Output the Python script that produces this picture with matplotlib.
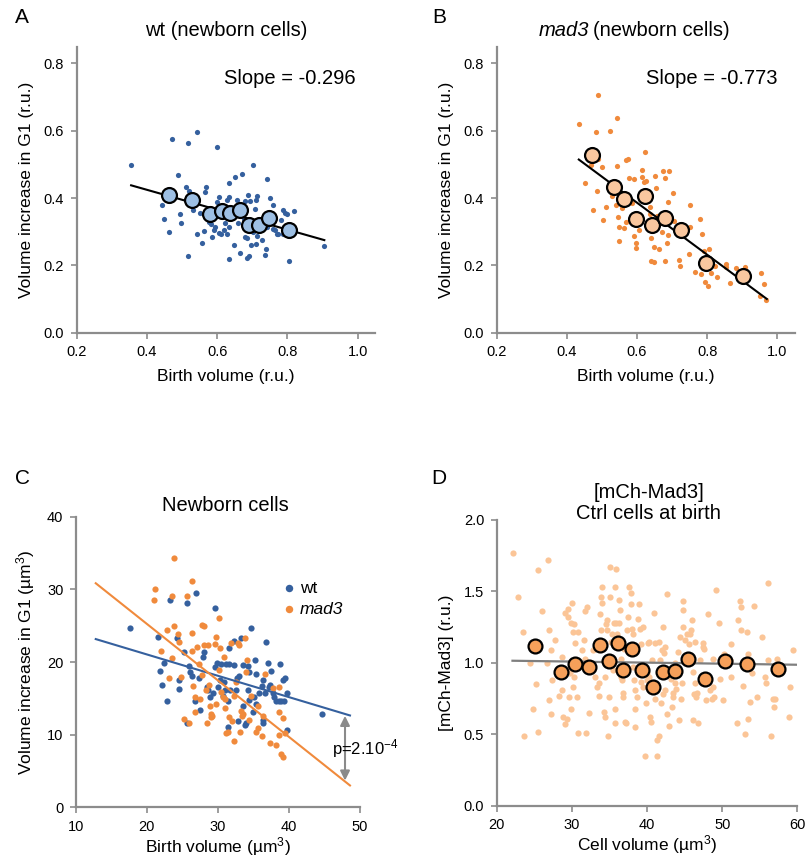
import matplotlib
matplotlib.use('Agg')
import matplotlib.pyplot as plt
import numpy as np

plt.rcParams['font.family'] = ['Liberation Sans', 'DejaVu Sans']
plt.rcParams['mathtext.fontset'] = 'custom'
plt.rcParams['mathtext.rm'] = 'Liberation Sans'
plt.rcParams['mathtext.it'] = 'Liberation Sans:italic'
plt.rcParams['mathtext.default'] = 'regular'

# ---------------- data ----------------
# panel A: wt newborn cells
a_x = [0.355, 0.471, 0.542, 0.518, 0.600, 0.701, 0.489, 0.635, 0.650, 0.671, 0.743, 0.510, 0.519, 0.568,
       0.566, 0.444, 0.448, 0.462, 0.495, 0.497, 0.521, 0.530, 0.552, 0.542, 0.556, 0.517, 0.578, 0.582,
       0.590, 0.600, 0.604, 0.634, 0.628, 0.656, 0.678, 0.688, 0.694, 0.709, 0.656, 0.658, 0.675, 0.689,
       0.711, 0.714, 0.750, 0.759, 0.787, 0.792, 0.800, 0.819, 0.747, 0.738, 0.743, 0.759, 0.765, 0.774,
       0.789, 0.782, 0.594, 0.605, 0.618, 0.628, 0.680, 0.701, 0.685, 0.696, 0.710, 0.713, 0.647, 0.621,
       0.633, 0.568, 0.562, 0.584, 0.612, 0.634, 0.664, 0.685, 0.692, 0.738, 0.737, 0.804, 0.905, 0.770,
       0.787, 0.794, 0.722, 0.728]
a_y = [0.497, 0.575, 0.595, 0.565, 0.552, 0.499, 0.469, 0.445, 0.463, 0.472, 0.457, 0.432, 0.421, 0.432,
       0.418, 0.379, 0.338, 0.298, 0.354, 0.327, 0.394, 0.364, 0.357, 0.294, 0.268, 0.229, 0.330, 0.323,
       0.305, 0.387, 0.404, 0.403, 0.394, 0.394, 0.391, 0.408, 0.391, 0.369, 0.349, 0.325, 0.339, 0.320,
       0.394, 0.406, 0.401, 0.378, 0.366, 0.357, 0.354, 0.362, 0.343, 0.319, 0.315, 0.309, 0.305, 0.292,
       0.315, 0.335, 0.315, 0.295, 0.305, 0.292, 0.285, 0.300, 0.280, 0.260, 0.265, 0.287, 0.262, 0.327,
       0.315, 0.345, 0.303, 0.285, 0.293, 0.218, 0.238, 0.221, 0.228, 0.248, 0.232, 0.214, 0.258, 0.293,
       0.293, 0.293, 0.305, 0.275]
a_mean_x = [0.463, 0.529, 0.579, 0.613, 0.637, 0.664, 0.690, 0.720, 0.748, 0.804]
a_mean_y = [0.409, 0.394, 0.354, 0.363, 0.357, 0.364, 0.321, 0.319, 0.342, 0.306]
a_fit = (-0.296, 0.543)   # slope, intercept
a_fit_x = [0.355, 0.905]

# panel B: mad3 newborn cells
b_x = [0.436, 0.489, 0.544, 0.524, 0.484, 0.469, 0.490, 0.500, 0.451, 0.487, 0.475, 0.504, 0.511, 0.528,
       0.544, 0.541, 0.546, 0.549, 0.549, 0.562, 0.557, 0.568, 0.575, 0.568, 0.577, 0.590, 0.587, 0.592,
       0.598, 0.596, 0.605, 0.607, 0.613, 0.622, 0.621, 0.626, 0.615, 0.653, 0.650, 0.636, 0.638, 0.639,
       0.641, 0.647, 0.649, 0.656, 0.662, 0.672, 0.675, 0.680, 0.692, 0.688, 0.702, 0.704, 0.695, 0.680,
       0.685, 0.687, 0.721, 0.723, 0.747, 0.752, 0.751, 0.764, 0.780, 0.785, 0.790, 0.783, 0.794, 0.802,
       0.804, 0.811, 0.822, 0.827, 0.853, 0.855, 0.866, 0.881, 0.907, 0.950, 0.954, 0.962, 0.969]
b_y = [0.620, 0.705, 0.639, 0.598, 0.597, 0.499, 0.515, 0.491, 0.444, 0.422, 0.364, 0.335, 0.373, 0.406,
       0.494, 0.379, 0.343, 0.314, 0.272, 0.311, 0.371, 0.330, 0.515, 0.513, 0.459, 0.458, 0.385, 0.287,
       0.252, 0.266, 0.328, 0.304, 0.482, 0.536, 0.447, 0.451, 0.464, 0.430, 0.467, 0.373, 0.353, 0.282,
       0.212, 0.211, 0.254, 0.346, 0.248, 0.299, 0.479, 0.459, 0.480, 0.387, 0.415, 0.333, 0.338, 0.214,
       0.266, 0.289, 0.215, 0.199, 0.234, 0.379, 0.315, 0.179, 0.338, 0.294, 0.243, 0.175, 0.151, 0.139,
       0.250, 0.177, 0.197, 0.165, 0.205, 0.195, 0.149, 0.192, 0.195, 0.108, 0.177, 0.144, 0.096]
b_mean_x = [0.471, 0.534, 0.564, 0.598, 0.623, 0.643, 0.679, 0.726, 0.798, 0.902]
b_mean_y = [0.528, 0.434, 0.396, 0.338, 0.405, 0.321, 0.340, 0.304, 0.208, 0.168]
b_fit = (-0.773, 0.850)
b_fit_x = [0.434, 0.970]

# panel C: absolute volumes (um3)
c_wt_x = [17.6, 21.5, 21.9, 22.4, 22.2, 22.8, 23.2, 24.2, 24.5, 24.5, 25.2, 25.6, 26.9, 25.6, 26.0, 26.1,
          26.3, 26.8, 27.4, 27.5, 27.9, 28.1, 28.4, 28.6, 28.9, 29.3, 29.6, 29.6, 29.9, 30.0, 30.3, 30.5,
          30.7, 30.8, 31.0, 31.2, 31.4, 31.5, 31.5, 31.4, 31.7, 32.2, 32.3, 32.5, 32.7, 32.8, 33.0, 33.2,
          33.5, 33.6, 33.8, 33.9, 34.3, 34.3, 34.4, 34.4, 34.6, 34.9, 35.1, 35.2, 35.3, 35.4, 35.8, 36.2,
          36.3, 36.4, 36.4, 36.6, 36.8, 37.0, 37.2, 37.4, 37.5, 37.7, 37.9, 38.2, 38.6, 38.7, 38.9, 39.1,
          39.3, 39.5, 39.7, 39.8, 44.6]
c_wt_y = [24.7, 23.4, 18.8, 19.9, 16.8, 14.7, 28.5, 23.3, 17.6, 16.3, 21.4, 28.1, 29.5, 11.6, 19.5, 18.7,
          18.1, 14.7, 17.8, 13.4, 20.7, 21.4, 16.6, 16.1, 15.2, 15.7, 27.4, 19.3, 19.9, 16.6, 17.6, 19.8,
          15.4, 17.3, 16.1, 19.8, 11.0, 22.0, 19.8, 14.6, 16.1, 22.9, 19.6, 16.1, 17.8, 11.9, 18.1, 23.3,
          19.6, 13.9, 11.3, 11.6, 16.2, 19.5, 18.6, 14.8, 24.7, 13.2, 15.2, 20.3, 18.4, 14.3, 15.7, 16.7,
          11.6, 17.5, 12.0, 15.7, 22.7, 19.9, 16.6, 16.8, 18.8, 15.7, 15.2, 14.7, 14.6, 19.8, 14.6, 17.5,
          14.6, 17.8, 10.7, 15.7, 12.9]
c_mad_x = [21.1, 21.0, 22.0, 22.9, 23.1, 23.6, 23.6, 23.8, 23.8, 24.4, 24.5, 24.8, 25.2, 25.6, 26.0, 26.4,
           26.4, 26.4, 26.5, 26.8, 26.8, 27.1, 27.3, 27.5, 27.7, 28.1, 27.8, 28.0, 28.3, 28.6, 28.5, 28.8,
           28.9, 29.1, 29.1, 29.2, 29.6, 29.7, 29.8, 30.1, 30.1, 30.3, 30.5, 30.7, 30.8, 31.0, 31.0, 31.1,
           31.4, 31.5, 31.9, 32.0, 32.2, 32.3, 32.5, 32.9, 33.0, 33.1, 33.3, 33.4, 33.6, 33.8, 34.0, 34.1,
           34.4, 34.7, 35.3, 35.6, 35.7, 36.2, 36.4, 36.7, 37.3, 37.8, 38.2, 38.6, 38.6, 38.6, 38.9, 39.1,
           39.1, 39.5]
c_mad_y = [30.1, 28.6, 21.5, 24.4, 17.8, 29.1, 20.6, 34.3, 25.0, 23.9, 22.7, 18.0, 12.2, 29.1, 11.6, 31.1,
           24.0, 21.5, 16.7, 15.2, 13.2, 22.1, 19.8, 14.9, 25.1, 25.0, 18.2, 22.3, 16.1, 22.3, 11.6, 16.8,
           13.9, 12.9, 12.4, 12.6, 22.5, 14.2, 23.4, 26.0, 18.9, 21.9, 15.9, 15.2, 20.7, 14.9, 13.7, 10.3,
           10.4, 12.4, 22.6, 11.9, 9.1, 15.3, 17.2, 22.6, 22.4, 10.4, 13.3, 12.6, 12.9, 23.3, 18.7, 20.3,
           12.0, 15.4, 10.4, 10.9, 13.9, 9.8, 12.6, 18.4, 8.8, 16.4, 8.6, 16.6, 13.2, 10.0, 7.4, 6.9,
           12.3, 10.2]
c_wt_fit = (-0.2935, 26.92)
c_mad_fit = (-0.777, 40.79)
c_fit_x = [12.8, 48.6]
c_arrow_x = 47.9
c_arrow_y = [12.6, 3.7]

# panel D: [mCh-Mad3] vs cell volume
d_x = [22.13, 22.84, 23.46, 24.39, 24.88, 23.64, 25.23, 25.46, 25.50, 26.03, 26.83, 26.96, 26.70, 26.92,
       27.19, 27.76, 27.27, 27.36, 28.34, 28.69, 28.69, 28.87, 29.14, 29.32, 29.05, 29.45, 30.02, 29.54,
       29.85, 30.25, 30.38, 30.20, 30.29, 30.11, 29.67, 29.89, 30.65, 30.78, 30.56, 29.23, 29.76, 30.87,
       31.80, 31.93, 32.06, 31.31, 31.58, 31.80, 32.24, 32.86, 33.13, 33.31, 33.57, 33.62, 33.75, 33.84,
       33.93, 33.97, 34.02, 34.28, 34.37, 34.42, 34.55, 34.64, 34.73, 34.81, 34.95, 35.04, 35.08, 35.17,
       35.30, 35.52, 35.61, 35.75, 35.88, 35.92, 35.97, 35.70, 35.79, 36.23, 36.32, 36.41, 36.50, 36.59,
       36.68, 36.77, 36.85, 36.94, 37.08, 37.21, 37.39, 37.52, 37.65, 37.83, 37.92, 38.01, 38.10, 38.14,
       38.27, 38.36, 38.41, 38.45, 38.63, 38.85, 38.98, 39.07, 39.16, 39.25, 39.43, 39.52, 39.74, 39.87,
       39.96, 40.05, 40.14, 40.23, 40.31, 40.40, 40.49, 40.62, 40.93, 41.02, 41.11, 41.29, 41.38, 41.56,
       41.64, 41.73, 41.82, 41.95, 42.09, 42.18, 42.26, 42.35, 42.44, 42.62, 42.71, 42.97, 43.15, 43.33,
       43.42, 43.51, 43.68, 43.77, 43.86, 44.13, 44.31, 44.39, 44.48, 44.62, 44.75, 44.75, 44.84, 45.06,
       45.37, 45.55, 45.72, 45.81, 45.99, 46.08, 46.17, 46.26, 46.35, 46.43, 46.52, 46.70, 46.79, 47.06,
       47.41, 47.50, 47.59, 47.85, 48.12, 48.39, 48.65, 48.74, 48.83, 48.92, 49.14, 49.58, 49.72, 49.89,
       50.07, 50.25, 50.69, 51.05, 51.14, 51.22, 51.93, 52.11, 52.38, 52.47, 52.55, 52.82, 53.04, 53.40,
       53.26, 53.49, 53.71, 53.97, 54.28, 54.60, 55.26, 55.70, 55.84, 56.10, 56.10, 56.46, 56.72, 56.90,
       56.99, 57.26, 58.94, 59.03, 59.38]
d_y = [1.77, 1.46, 1.22, 1.00, 0.68, 0.49, 0.85, 0.52, 1.65, 1.36, 1.72, 1.23, 1.00, 0.74,
       0.64, 1.16, 1.09, 0.88, 0.77, 0.81, 1.04, 0.62, 0.57, 0.61, 1.35, 1.38, 1.42, 1.32,
       1.28, 1.27, 1.14, 1.22, 0.90, 0.83, 0.76, 0.68, 0.76, 0.51, 1.02, 0.95, 0.93, 1.22,
       1.36, 0.51, 1.39, 1.09, 1.16, 1.03, 0.65, 1.09, 0.90, 0.83, 0.86, 0.77, 1.34, 1.23,
       1.46, 1.42, 1.53, 0.66, 0.62, 0.90, 1.27, 1.23, 1.30, 0.49, 0.76, 1.46, 1.67, 1.15,
       1.20, 0.95, 1.28, 1.53, 1.28, 1.66, 1.20, 0.68, 0.58, 1.44, 1.28, 1.37, 0.90, 1.03,
       0.88, 0.79, 0.76, 1.10, 0.59, 0.58, 1.23, 1.32, 1.53, 1.49, 1.41, 1.24, 1.20, 0.97,
       0.88, 0.81, 0.55, 0.68, 0.76, 1.31, 1.41, 1.24, 1.13, 0.87, 0.83, 1.25, 0.35, 0.72,
       0.88, 0.93, 1.14, 1.15, 0.90, 0.62, 0.59, 1.02, 1.35, 1.14, 0.75, 0.46, 0.35, 0.49,
       1.15, 1.02, 0.72, 1.09, 1.25, 0.78, 1.07, 0.81, 1.11, 1.48, 0.64, 0.56, 0.89, 0.69,
       0.79, 0.76, 1.00, 0.86, 0.82, 1.08, 0.60, 1.18, 0.75, 0.86, 1.37, 1.43, 1.25, 1.16,
       1.20, 1.13, 1.20, 1.23, 1.30, 0.60, 0.94, 0.78, 1.15, 0.86, 0.76, 0.79, 0.58, 1.02,
       1.11, 1.14, 1.10, 0.74, 1.34, 0.81, 0.75, 1.03, 0.83, 0.76, 1.51, 1.28, 0.89, 1.02,
       0.74, 1.06, 1.00, 1.02, 0.90, 1.13, 0.58, 1.30, 1.43, 1.23, 1.39, 0.84, 0.50, 0.61,
       1.22, 1.06, 0.73, 0.93, 1.40, 0.76, 1.18, 0.90, 0.86, 1.56, 1.02, 0.49, 0.75, 0.69,
       0.75, 1.03, 0.62, 0.83, 1.09]
d_mean_x = [25.10, 28.56, 30.38, 32.24, 33.79, 34.90, 36.10, 36.85, 38.05, 39.34, 40.76, 42.09, 43.68,
            45.50, 47.76, 50.38, 53.26, 57.39]
d_mean_y = [1.119, 0.935, 0.991, 0.972, 1.124, 1.014, 1.138, 0.953, 1.098, 0.953, 0.830, 0.935, 0.946,
            1.026, 0.886, 1.012, 0.993, 0.956]
d_fit = (-0.00074, 1.032)
d_fit_x = [22.1, 60.0]

# ---------------- styling ----------------
BLUE = '#35609e'
LIGHTBLUE = '#9dbfe3'
ORANGE = '#f08a3c'
PEACH = '#f9c79f'
LIGHTORANGE = '#fbc597'
MEANORANGE = '#f6a05a'
AXCOL = '#8c8c8c'


def style(ax, xlim, ylim, xticks, yticks, xfmt, yfmt):
    for s in ['top', 'right']:
        ax.spines[s].set_visible(False)
    for s in ['left', 'bottom']:
        ax.spines[s].set_color(AXCOL)
        ax.spines[s].set_linewidth(1.6)
    ax.set_xlim(*xlim)
    ax.set_ylim(*ylim)
    ax.set_xticks(xticks)
    ax.set_yticks(yticks)
    ax.set_xticklabels([xfmt.format(v) for v in xticks])
    ax.set_yticklabels([yfmt.format(v) for v in yticks])
    ax.tick_params(direction='out', length=4, width=1.2, color=AXCOL, labelsize=10.5, pad=5)


def fitline(ax, fit, xr, color, lw):
    xs = np.array(xr)
    ax.plot(xs, fit[0] * xs + fit[1], color=color, lw=lw, zorder=3)


fig = plt.figure(figsize=(8.07, 8.59), dpi=100)

axA = fig.add_axes([0.095, 0.6127, 0.370, 0.333])
axB = fig.add_axes([0.6155, 0.6127, 0.3695, 0.333])
axC = fig.add_axes([0.094, 0.060, 0.352, 0.3385])
axD = fig.add_axes([0.6155, 0.0617, 0.3725, 0.333])

# A
axA.scatter(a_x, a_y, s=14, color=BLUE, lw=0, zorder=2)
fitline(axA, a_fit, a_fit_x, 'black', 1.5)
axA.scatter(a_mean_x, a_mean_y, s=115, color=LIGHTBLUE, edgecolor='black', lw=1.6, zorder=4)
style(axA, (0.2, 1.05), (0, 0.85), [0.2, 0.4, 0.6, 0.8, 1.0], [0, 0.2, 0.4, 0.6, 0.8], '{:.1f}', '{:.1f}')
axA.set_xlabel('Birth volume (r.u.)', fontsize=12.5, labelpad=7)
axA.set_ylabel('Volume increase in G1 (r.u.)', fontsize=12.5, labelpad=7)
axA.text(0.715, 0.89, 'Slope = -0.296', transform=axA.transAxes, fontsize=14.5, ha='center', va='center')

# B
axB.scatter(b_x, b_y, s=14, color=ORANGE, lw=0, zorder=2)
fitline(axB, b_fit, b_fit_x, 'black', 1.5)
axB.scatter(b_mean_x, b_mean_y, s=115, color=PEACH, edgecolor='black', lw=1.6, zorder=4)
style(axB, (0.2, 1.05), (0, 0.85), [0.2, 0.4, 0.6, 0.8, 1.0], [0, 0.2, 0.4, 0.6, 0.8], '{:.1f}', '{:.1f}')
axB.set_xlabel('Birth volume (r.u.)', fontsize=12.5, labelpad=7)
axB.set_ylabel('Volume increase in G1 (r.u.)', fontsize=12.5, labelpad=7)
axB.text(0.72, 0.89, 'Slope = -0.773', transform=axB.transAxes, fontsize=14.5, ha='center', va='center')

# C
axC.scatter(c_wt_x, c_wt_y, s=20, color=BLUE, lw=0, zorder=2, label='wt')
axC.scatter(c_mad_x, c_mad_y, s=20, color=ORANGE, lw=0, zorder=2, label='mad3')
fitline(axC, c_wt_fit, c_fit_x, BLUE, 1.5)
fitline(axC, c_mad_fit, c_fit_x, ORANGE, 1.5)
axC.annotate('', xy=(c_arrow_x, c_arrow_y[1]), xytext=(c_arrow_x, c_arrow_y[0]),
             arrowprops=dict(arrowstyle='<|-|>', color='#8a8a8a', lw=1.5, mutation_scale=14,
                             shrinkA=0, shrinkB=0))
axC.text(46.1, 8.1, r'p=2.10$^{-4}$', fontsize=12, ha='left', va='center')
style(axC, (10, 50), (0, 40), [10, 20, 30, 40, 50], [0, 10, 20, 30, 40], '{:d}', '{:d}')
axC.set_xlabel(r'Birth volume (µm$^3$)', fontsize=12.5, labelpad=0.5)
axC.set_ylabel(r'Volume increase in G1 (µm$^3$)', fontsize=12.5, labelpad=7)
leg = axC.legend(loc='upper left', bbox_to_anchor=(0.69, 0.81), frameon=False, fontsize=12.5,
                 handletextpad=0.1, borderpad=0, labelspacing=0.35, markerscale=1.2, handlelength=1.0)
leg.get_texts()[1].set_fontstyle('italic')

# D
axD.scatter(d_x, d_y, s=20, color=LIGHTORANGE, lw=0, zorder=2)
fitline(axD, d_fit, d_fit_x, '#7f7f7f', 1.6)
axD.scatter(d_mean_x, d_mean_y, s=100, color=MEANORANGE, edgecolor='black', lw=1.6, zorder=4)
style(axD, (20, 60), (0, 2.0), [20, 30, 40, 50, 60], [0, 0.5, 1.0, 1.5, 2.0], '{:d}', '{:.1f}')
axD.set_xlabel(r'Cell volume (µm$^3$)', fontsize=12.5, labelpad=0.5)
axD.set_ylabel('[mCh-Mad3] (r.u.)', fontsize=12.5, labelpad=7)

# titles and panel letters
fig.text(0.280, 0.965, 'wt (newborn cells)', fontsize=14.5, ha='center', va='center')
fig.text(0.7300, 0.965, 'mad3', fontsize=14.5, ha='right', va='center', fontstyle='italic')
fig.text(0.7345, 0.965, '(newborn cells)', fontsize=14.5, ha='left', va='center')
fig.text(0.279, 0.411, 'Newborn cells', fontsize=14.5, ha='center', va='center')
fig.text(0.804, 0.4145, '[mCh-Mad3]\nCtrl cells at birth', fontsize=14.5, ha='center', va='center',
         linespacing=1.15)
for lx, ly, lt in [(0.018, 0.980, 'A'), (0.536, 0.980, 'B'), (0.018, 0.443, 'C'), (0.534, 0.443, 'D')]:
    fig.text(lx, ly, lt, fontsize=15, ha='left', va='center')

fig.savefig('out.png', dpi=100)
